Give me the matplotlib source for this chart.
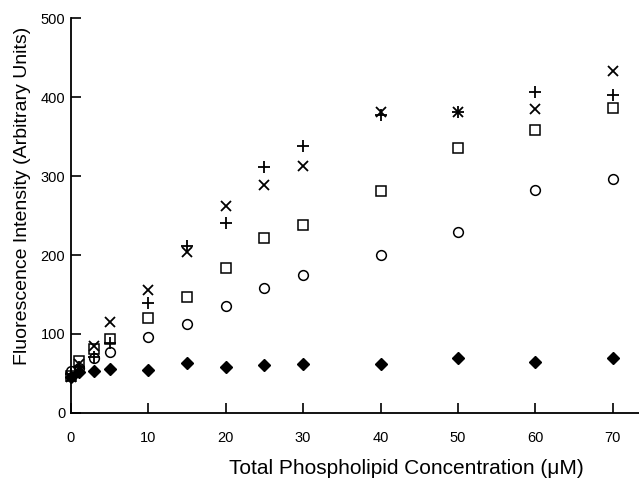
import matplotlib
matplotlib.use("Agg")
import matplotlib.pyplot as plt

plt.rcParams["font.family"] = ["Liberation Sans", "DejaVu Sans"]

# total phospholipid concentration (uM)
conc = [0, 1, 3, 5, 10, 15, 20, 25, 30, 40, 50, 60, 70]

# fluorescence intensity, one list per series
diamond = [45, 52, 53, 56, 54, 63, 58, 61, 62, 62, 69, 64, 70]
circle  = [53, 57, 69, 77, 96, 113, 136, 158, 175, 200, 229, 282, 296]
square  = [47, 66, 81, 94, 120, 147, 183, 222, 238, 281, 336, 358, 386]
plus    = [49, 58, 71, 89, 139, 212, 240, 311, 338, 378, 381, 406, 403]
cross   = [46, 62, 85, 115, 156, 204, 262, 289, 313, 381, 381, 385, 433]

fig = plt.figure(figsize=(6.39, 4.79), dpi=100)
ax = fig.add_axes([0.111, 0.138, 0.889, 0.824])

ms = 7
ax.plot(conc, diamond, linestyle="none", marker="D", markersize=6,
        color="black", clip_on=False)
ax.plot(conc, circle, linestyle="none", marker="o", markersize=ms,
        markerfacecolor="none", markeredgecolor="black", markeredgewidth=1.1,
        clip_on=False)
ax.plot(conc, square, linestyle="none", marker="s", markersize=ms,
        markerfacecolor="none", markeredgecolor="black", markeredgewidth=1.1,
        clip_on=False)
ax.plot(conc, plus, linestyle="none", marker="+", markersize=8,
        color="black", markeredgewidth=1.3, clip_on=False)
ax.plot(conc, cross, linestyle="none", marker="x", markersize=7,
        color="black", markeredgewidth=1.3, clip_on=False)

ax.set_xlim(0, 73.4)
ax.set_ylim(0, 500)
ax.set_xticks(range(0, 71, 10))
ax.set_yticks(range(0, 501, 100))

for side in ("top", "right"):
    ax.spines[side].set_visible(False)
for side in ("left", "bottom"):
    ax.spines[side].set_linewidth(1.3)

ax.tick_params(axis="both", direction="in", length=7, width=1.2,
               labelsize=10.5, colors="black")
ax.tick_params(axis="x", pad=13)
ax.tick_params(axis="y", pad=4)

ax.set_xlabel("Total Phospholipid Concentration (\u03bcM)", fontsize=15)
ax.set_ylabel("Fluorescence Intensity (Arbitrary Units)", fontsize=14)
ax.xaxis.set_label_coords(0.59, -0.118)
ax.yaxis.set_label_coords(-0.071, 0.55)

fig.savefig("out.png", dpi=100)
